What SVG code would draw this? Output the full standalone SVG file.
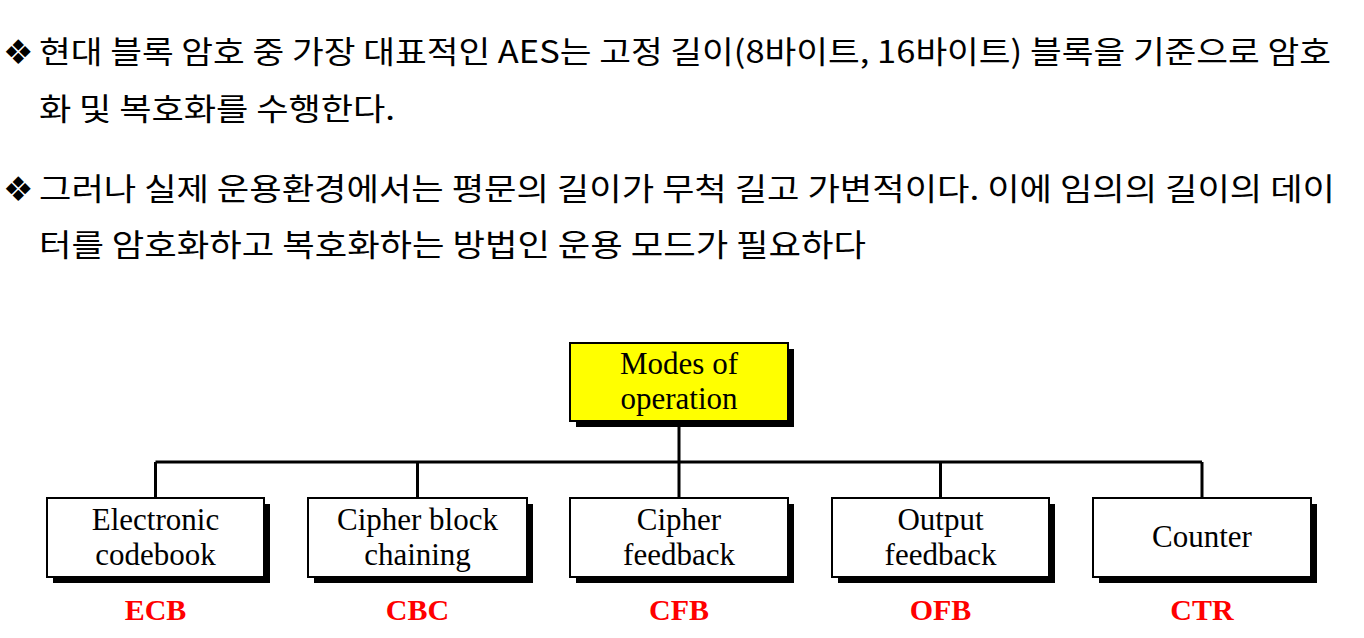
<svg xmlns="http://www.w3.org/2000/svg" width="1364" height="638" viewBox="0 0 1364 638">
<style>
.kr{font-family:"Noto Sans CJK KR","Noto Sans",sans-serif;font-size:31px;fill:#000}
.bul{font-family:"DejaVu Sans",sans-serif;font-size:34px;fill:#000}
.lbl{font-family:"Liberation Serif","Times New Roman",serif;font-size:31px;fill:#000;text-anchor:middle}
.abbr{font-family:"Liberation Serif","Times New Roman",serif;font-size:30px;font-weight:bold;fill:#ff0000;text-anchor:middle}
.box{fill:#fff;stroke:#000;stroke-width:2}
.shadow{fill:#000}
.conn{fill:none;stroke:#000;stroke-width:3}
</style>
<rect width="1364" height="638" fill="#fff"/>
<g id="text">
<text class="bul" x="3" y="64">❖</text>
<text class="kr" x="39" y="63" textLength="1292" lengthAdjust="spacingAndGlyphs">현대 블록 암호 중 가장 대표적인 AES는 고정 길이(8바이트, 16바이트) 블록을 기준으로 암호</text>
<text class="kr" x="39" y="120" textLength="356" lengthAdjust="spacingAndGlyphs">화 및 복호화를 수행한다.</text>
<text class="bul" x="3" y="201">❖</text>
<text class="kr" x="39" y="200" textLength="1296" lengthAdjust="spacingAndGlyphs">그러나 실제 운용환경에서는 평문의 길이가 무척 길고 가변적이다. 이에 임의의 길이의 데이</text>
<text class="kr" x="39" y="256" textLength="827" lengthAdjust="spacingAndGlyphs">터를 암호화하고 복호화하는 방법인 운용 모드가 필요하다</text>
</g>
<g id="connectors">
<path class="conn" d="M679 421 V462 M155.5 462 H1202 M155.5 462 V498 M417.5 462 V498 M679 462 V498 M940.5 462 V498 M1202 462 V498"/>
</g>
<g id="root">
<rect class="shadow" x="576" y="349" width="218" height="78"/>
<rect x="570" y="343" width="218" height="78" fill="#ffff00" stroke="#000" stroke-width="2"/>
<text class="lbl" x="679" y="374">Modes of</text>
<text class="lbl" x="679" y="409">operation</text>
</g>
<g id="ecb">
<rect class="shadow" x="53" y="504" width="217" height="79"/>
<rect class="box" x="47" y="498" width="217" height="79"/>
<text class="lbl" x="155.5" y="530">Electronic</text>
<text class="lbl" x="155.5" y="565">codebook</text>
<text class="abbr" x="155.5" y="620">ECB</text>
</g>
<g id="cbc">
<rect class="shadow" x="314" y="504" width="219" height="79"/>
<rect class="box" x="308" y="498" width="219" height="79"/>
<text class="lbl" x="417.5" y="530">Cipher block</text>
<text class="lbl" x="417.5" y="565">chaining</text>
<text class="abbr" x="417.5" y="620">CBC</text>
</g>
<g id="cfb">
<rect class="shadow" x="576" y="504" width="218" height="79"/>
<rect class="box" x="570" y="498" width="218" height="79"/>
<text class="lbl" x="679" y="530">Cipher</text>
<text class="lbl" x="679" y="565">feedback</text>
<text class="abbr" x="679" y="620">CFB</text>
</g>
<g id="ofb">
<rect class="shadow" x="838" y="504" width="217" height="79"/>
<rect class="box" x="832" y="498" width="217" height="79"/>
<text class="lbl" x="940.5" y="530">Output</text>
<text class="lbl" x="940.5" y="565">feedback</text>
<text class="abbr" x="940.5" y="620">OFB</text>
</g>
<g id="ctr">
<rect class="shadow" x="1099" y="504" width="218" height="79"/>
<rect class="box" x="1093" y="498" width="218" height="79"/>
<text class="lbl" x="1202" y="547">Counter</text>
<text class="abbr" x="1202" y="620">CTR</text>
</g>
</svg>
